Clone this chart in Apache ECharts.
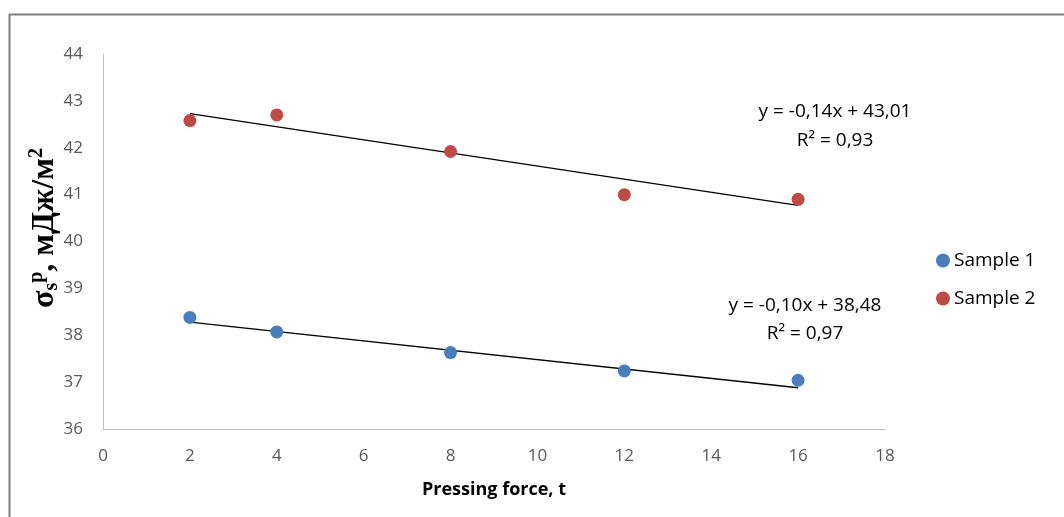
<!DOCTYPE html>
<html>
<head>
<meta charset="utf-8">
<script src="https://cdn.jsdelivr.net/npm/echarts@6/dist/echarts.min.js"></script>
<style>html,body{margin:0;padding:0;background:#fff;}#c{width:1064px;height:517px;}</style>
</head>
<body>
<div id="c"></div>
<script>
const xTicks = [0, 2, 4, 6, 8, 10, 12, 14, 16, 18];
const yTicks = [36, 37, 38, 39, 40, 41, 42, 43, 44];
const forceS1 = [2, 4, 8, 12, 16];
const valuesS1 = [38.38, 38.07, 37.63, 37.24, 37.04];
const forceS2 = [2, 4, 8, 12, 16];
const valuesS2 = [42.58, 42.70, 41.92, 41.00, 40.90];
const trendS1 = [[2, 38.28], [16, 36.88]];
const trendS2 = [[2, 42.73], [16, 40.77]];
const eqS1 = ['y = -0,10x + 38,48', 'R² = 0,97'];
const eqS2 = ['y = -0,14x + 43,01', 'R² = 0,93'];
const seriesNames = ['Sample 1', 'Sample 2'];
const yTitle = '{b|σ}{sub|s}{sup|p}{b|, мДж/м}{sup|2}';

const chart = echarts.init(document.getElementById('c'));
const font = '"Open Sans", "Liberation Sans", sans-serif';
const serif = '"Liberation Serif", "DejaVu Serif", serif';
chart.setOption({
  animation: false,
  backgroundColor: '#fff',
  grid: { left: 103, right: 179, top: 54, bottom: 88 },
  legend: {
    data: seriesNames,
    orient: 'vertical',
    left: 931, top: 246,
    itemGap: 19,
    itemWidth: 14, itemHeight: 14,
    icon: 'circle',
    textStyle: { fontFamily: font, fontSize: 19, color: '#000', padding: [0, 0, 0, -1] }
  },
  xAxis: {
    type: 'value', min: xTicks[0], max: xTicks[xTicks.length - 1], interval: 2,
    name: 'Pressing force, t', nameLocation: 'middle', nameGap: 52,
    nameTextStyle: { fontFamily: font, fontSize: 18, fontWeight: 'bold', color: '#000' },
    axisLine: { show: true, lineStyle: { color: '#bfbfbf', width: 1 } },
    axisTick: { show: false },
    splitLine: { show: false },
    axisLabel: { fontFamily: font, fontSize: 17, color: '#595959', margin: 19 }
  },
  yAxis: {
    type: 'value', min: yTicks[0], max: yTicks[yTicks.length - 1], interval: 1,
    axisLine: { show: true, lineStyle: { color: '#bfbfbf', width: 1 } },
    axisTick: { show: false },
    splitLine: { show: false },
    axisLabel: { fontFamily: font, fontSize: 17, color: '#595959', margin: 20 }
  },
  series: [
    {
      name: seriesNames[0], type: 'scatter', symbolSize: 13,
      itemStyle: { color: '#4A7EBB', opacity: 1 },
      data: forceS1.map((x, i) => [x, valuesS1[i]]), z: 3
    },
    {
      name: seriesNames[1], type: 'scatter', symbolSize: 13,
      itemStyle: { color: '#BE4B48', opacity: 1 },
      data: forceS2.map((x, i) => [x, valuesS2[i]]), z: 3
    },
    {
      name: 'trend1', type: 'line', data: trendS1, showSymbol: false, silent: true,
      lineStyle: { color: '#000', width: 1.3 }, z: 2
    },
    {
      name: 'trend2', type: 'line', data: trendS2, showSymbol: false, silent: true,
      lineStyle: { color: '#000', width: 1.3 }, z: 2
    }
  ],
  graphic: [
    { type: 'rect', shape: { x: 9.5, y: 14.5, width: 1200, height: 700 }, style: { fill: null, stroke: '#7f7f7f', lineWidth: 2 }, silent: true, z: 0 },
    {
      type: 'text', x: 45, y: 228, rotation: Math.PI / 2,
      style: {
        text: yTitle, align: 'center', verticalAlign: 'middle',
        rich: {
          b: { fontFamily: serif, fontSize: 32, fontWeight: 'bold', fill: '#000', lineHeight: 42, verticalAlign: 'middle' },
          sub: { fontFamily: serif, fontSize: 20, fontWeight: 'bold', fill: '#000', lineHeight: 42, verticalAlign: 'bottom', padding: [0, 0, 4, 0] },
          sup: { fontFamily: serif, fontSize: 20, fontWeight: 'bold', fill: '#000', lineHeight: 42, verticalAlign: 'top', padding: [3, 0, 0, 0] }
        }
      }
    },
    { type: 'text', x: 835, y: 112, style: { text: eqS2[0], font: '19px ' + font, fill: '#000', align: 'center', verticalAlign: 'middle' } },
    { type: 'text', x: 835, y: 141, style: { text: eqS2[1], font: '19px ' + font, fill: '#000', align: 'center', verticalAlign: 'middle' } },
    { type: 'text', x: 805, y: 306, style: { text: eqS1[0], font: '19px ' + font, fill: '#000', align: 'center', verticalAlign: 'middle' } },
    { type: 'text', x: 805, y: 334, style: { text: eqS1[1], font: '19px ' + font, fill: '#000', align: 'center', verticalAlign: 'middle' } }
  ]
});
</script>
</body>
</html>
